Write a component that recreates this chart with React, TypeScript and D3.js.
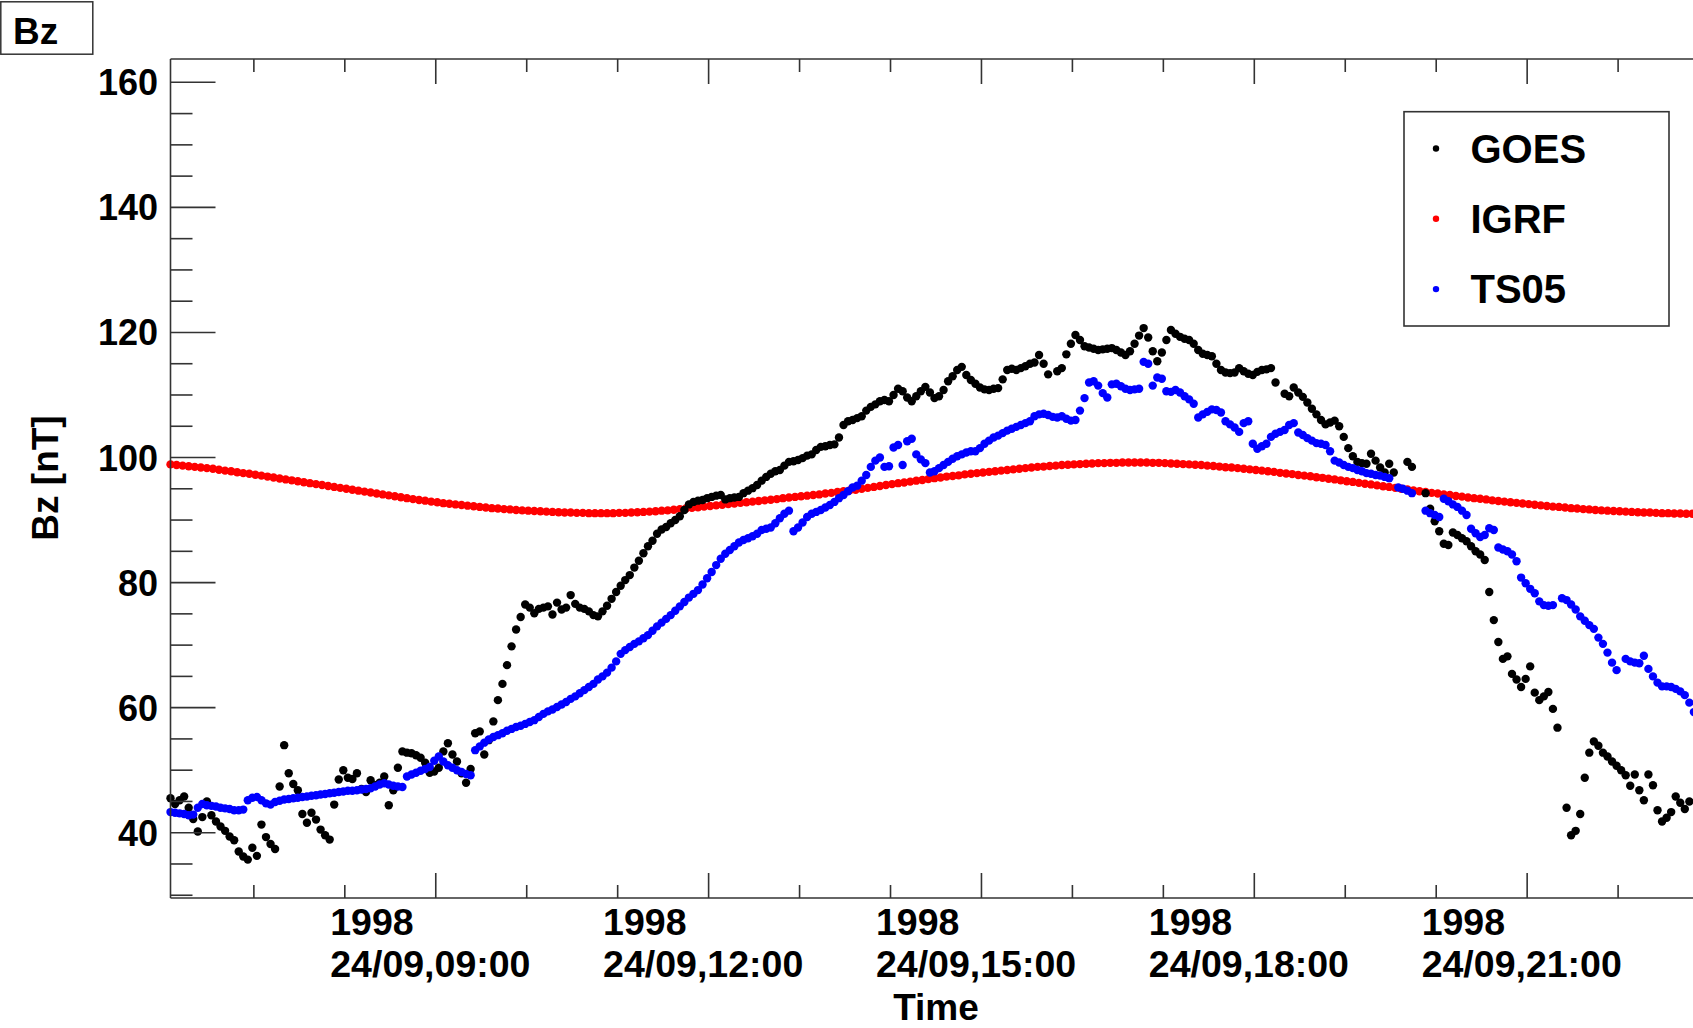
import React from "react";
import * as d3 from "d3";

// Bz component along the GOES orbit, 24 Sep 1998: measured field vs IGRF and TS05 models
const START = Date.UTC(1998, 8, 24, 6, 5);
const END = Date.UTC(1998, 8, 24, 24, 0);
const GOES_STEP_MIN = 3;
const TS05_STEP_MIN = 3;
const IGRF_STEP_MIN = 4;

const goesBz: (number | null)[] = [
  45.5, 44.6, 45.2, 45.8, 44.0, 42.2, 40.2, 42.5, 45.0, 42.8,
  41.8, 41.0, 40.3, 39.4, 38.8, 37.0, 36.2, 35.7, 37.6, 36.3,
  41.3, 39.3, 38.2, 37.4, 47.4, 54.0, 49.5, 47.8, 46.8, 43.0,
  41.6, 43.2, 42.1, 40.5, 39.6, 38.9, 44.5, 48.5, 50.0, 48.8,
  48.6, 49.5, 47.0, 46.5, 48.4, 47.6, 48.0, 49.0, 44.4, 46.8,
  50.4, 53.0, 52.8, 52.7, 52.4, 52.0, 51.2, 49.6, 49.8, 50.4,
  53.0, 54.3, 52.5, 51.4, 49.5, 48.0, 50.2, 55.9, 56.2, 52.5,
  54.8, 57.8, 61.2, 63.8, 66.8, 69.8, 72.5, 74.5, 76.5, 76.0,
  75.1, 75.8, 76.0, 76.2, 74.9, 76.8, 75.7, 76.0, 78.0, 76.6,
  76.0, 75.8, 75.4, 74.8, 74.6, 75.4, 76.3, 77.4, 78.5, 79.5,
  80.4, 81.2, 82.4, 83.5, 84.7, 85.8, 86.7, 87.8, 88.5, 88.9,
  89.5, 90.0, 90.6, 91.6, 92.5, 92.9, 93.1, 93.2, 93.5, 93.7,
  93.9, 94.0, 93.3, 93.5, 93.6, 93.7, 94.3, 94.7, 95.1, 95.6,
  96.3, 96.9, 97.4, 97.8, 98.0, 98.7, 99.3, 99.4, 99.6, 99.9,
  100.3, 100.5, 101.2, 101.7, 101.8, 102.0, 102.1, 103.2, 105.2, 105.8,
  106.0, 106.3, 106.6, 107.5, 108.1, 108.5, 109.0, 109.2, 109.0, 110.0,
  111.0, 110.6, 109.6, 109.0, 109.8, 110.6, 111.3, 110.4, 109.5, 109.8,
  110.8, 112.2, 113.0, 114.0, 114.5, 113.2, 112.4, 111.8, 111.2, 110.9,
  110.8, 111.0, 111.1, 112.5, 114.0, 114.2, 114.0, 114.3, 114.6, 115.0,
  115.2, 116.4, 115.0, 113.3, null, 113.8, 114.3, 116.5, 118.2, 119.6,
  118.8, 117.8, 117.6, 117.4, 117.2, 117.3, 117.4, 117.5, 117.2, 116.8,
  116.4, 117.0, 118.2, 119.5, 120.7, 119.2, 117.0, 115.4, 116.8, 118.8,
  120.4, 119.8, 119.3, 119.0, 118.8, 118.2, 117.2, 116.6, 116.4, 116.2,
  115.0, 114.0, 113.6, 113.5, 113.6, 114.3, 113.8, 113.4, 113.2, 113.7,
  114.0, 114.1, 114.3, 112.0, null, 110.2, 109.8, 111.2, 110.4, 109.7,
  108.8, 107.8, 106.9, 106.0, 105.3, 105.6, 105.9, 105.0, 103.3, 101.5,
  100.2, 99.3, 99.1, 99.0, 100.6, 99.5, 98.4, 97.6, 99.0, 97.6,
  null, null, 99.3, 98.5, null, null, 94.3, 91.8, 89.8, 88.2,
  86.2, 86.0, 88.0, 87.6, 87.1, 86.6, 85.8, 85.0, 84.5, 83.6,
  78.5, 74.0, 70.5, 67.8, 68.2, 65.4, 64.5, 63.3, 64.6, 66.6,
  62.4, 61.2, 61.8, 62.5, 59.8, 56.8, null, 44.0, 39.6, 40.3,
  43.0, 48.8, 52.8, 54.6, 53.9, 52.8, 52.2, 51.4, 50.7, 50.0,
  49.2, 47.5, 49.3, 46.8, 45.2, 49.3, 47.6, 43.6, 41.8, 42.4,
  43.3, 45.8, 44.8, 43.8, 45.0,
];

const ts05Bz: (number | null)[] = [
  43.3, 43.2, 43.1, 43.0, 42.8, 42.9, 44.0, 44.6, 44.4, 44.3,
  44.2, 44.0, 43.9, 43.8, 43.6, 43.6, 43.7, 45.2, 45.6, 45.7,
  45.2, 44.7, 44.5, 44.9, 45.1, 45.3, 45.4, 45.5, 45.6, 45.7,
  45.8, 45.9, 46.0, 46.1, 46.2, 46.3, 46.4, 46.5, 46.6, 46.7,
  46.7, 46.8, 46.9, 47.0, 47.1, 47.4, 47.7, 47.9, 47.7, 47.5,
  47.4, 47.3, 49.0, 49.3, 49.6, 49.9, 50.2, 50.5, 51.5, 52.2,
  51.4, 50.8, 50.4, 50.0, 49.7, 49.4, 49.2, 53.2, 53.8, 54.4,
  54.9, 55.3, 55.6, 55.9, 56.3, 56.6, 56.9, 57.1, 57.4, 57.7,
  58.0, 58.5, 59.0, 59.4, 59.7, 60.1, 60.5, 60.9, 61.4, 61.8,
  62.3, 62.8, 63.3, 63.8, 64.5, 65.0, 65.6, 66.4, 67.4, 68.6,
  69.2, 69.7, 70.2, 70.6, 71.1, 71.6, 72.3, 73.0, 73.6, 74.2,
  74.8, 75.5, 76.2, 76.9, 77.6, 78.2, 78.8, 79.7, 80.7, 81.7,
  82.8, 83.8, 84.6, 85.2, 85.8, 86.4, 86.8, 87.1, 87.4, 87.8,
  88.4, 88.6, 88.8, 89.5, 90.3, 91.0, 91.5, 88.2, 88.8, 89.6,
  90.5, 91.0, 91.3, 91.6, 92.0, 92.4, 92.9, 93.5, 94.0, 94.6,
  95.2, 95.5, 96.3, 97.2, 98.5, 99.5, 100.0, 98.5, 98.6, 101.6,
  102.0, 98.8, 102.6, 103.0, 100.5, 99.7, 99.1, 97.6, 97.8, 98.3,
  98.8, 99.3, 99.8, 100.2, 100.5, 100.8, 101.0, 101.0, 101.5, 102.2,
  102.7, 103.2, 103.5, 103.9, 104.3, 104.6, 104.9, 105.2, 105.5, 105.8,
  106.6, 106.9, 107.0, 106.8, 106.5, 106.4, 106.6, 106.2, 105.9, 106.0,
  107.5, 109.5, 112.0, 112.2, 111.5, 110.3, 109.6, 111.7, 111.8, 111.4,
  111.0, 110.8, 110.9, 111.0, 115.3, 115.0, 111.5, 112.8, 112.6, 110.6,
  110.5, 110.8, 110.4, 109.8, 109.3, 108.6, 106.4, 106.9, 107.3, 107.7,
  107.6, 107.2, 105.8, 105.3, 104.8, 104.1, 105.5, 105.8, 102.2, 101.4,
  101.8, 102.2, 103.3, 103.8, 104.1, 104.4, 105.2, 105.5, 104.0, 103.6,
  103.1, 102.7, 102.3, 102.2, 102.0, 101.0, 99.5, 99.2, 98.8, 98.5,
  98.3, 98.0, 97.8, 97.5, 97.4, 97.2, 97.1, 96.9, 96.7, null,
  95.2, 95.0, 94.7, 94.3, null, null, 91.5, 91.1, 90.8, 90.5,
  93.4, 93.0, 92.5, 92.1, 91.5, 90.8, 88.6, 87.9, 87.3, 87.6,
  88.7, 88.4, 85.6, 85.3, 85.0, 84.5, 83.4, 80.8, 79.9, 79.0,
  78.3, 77.0, 76.4, 76.3, 76.4, null, 77.5, 77.2, 76.5, 75.7,
  74.6, 73.9, 73.2, 72.6, 71.2, 70.2, 68.8, 67.2, 66.0, null,
  67.8, 67.4, 67.2, 67.1, 68.3, 66.2, 65.0, 64.0, 63.4, 63.4,
  63.3, 63.0, 62.6, 62.0, 60.8, 59.3,
];

const igrfBz: (number | null)[] = [
  98.9, 98.8, 98.7, 98.6, 98.5, 98.4, 98.3, 98.2, 98.05, 97.9,
  97.8, 97.65, 97.5, 97.4, 97.25, 97.1, 96.95, 96.8, 96.65, 96.5,
  96.35, 96.2, 96.05, 95.9, 95.75, 95.6, 95.45, 95.3, 95.15, 95.0,
  94.85, 94.7, 94.55, 94.4, 94.25, 94.1, 93.95, 93.8, 93.65, 93.5,
  93.35, 93.2, 93.1, 92.95, 92.85, 92.7, 92.6, 92.5, 92.4, 92.3,
  92.2, 92.1, 92.0, 91.9, 91.85, 91.75, 91.7, 91.6, 91.55, 91.5,
  91.45, 91.4, 91.35, 91.3, 91.25, 91.2, 91.2, 91.15, 91.15, 91.1,
  91.1, 91.1, 91.1, 91.1, 91.15, 91.15, 91.2, 91.25, 91.3, 91.35,
  91.4, 91.5, 91.55, 91.65, 91.75, 91.85, 91.95, 92.05, 92.15, 92.25,
  92.35, 92.45, 92.55, 92.65, 92.75, 92.85, 92.95, 93.05, 93.15, 93.25,
  93.35, 93.5, 93.6, 93.7, 93.8, 93.9, 94.0, 94.1, 94.25, 94.35,
  94.5, 94.6, 94.75, 94.85, 95.0, 95.15, 95.3, 95.45, 95.6, 95.75,
  95.9, 96.0, 96.15, 96.3, 96.4, 96.55, 96.7, 96.8, 96.95, 97.05,
  97.15, 97.3, 97.4, 97.5, 97.6, 97.7, 97.8, 97.9, 98.0, 98.1,
  98.2, 98.3, 98.4, 98.5, 98.55, 98.65, 98.7, 98.8, 98.85, 98.9,
  98.95, 99.0, 99.05, 99.1, 99.1, 99.15, 99.15, 99.2, 99.2, 99.2,
  99.2, 99.2, 99.15, 99.15, 99.1, 99.05, 99.0, 98.95, 98.9, 98.85,
  98.8, 98.7, 98.65, 98.55, 98.45, 98.4, 98.3, 98.2, 98.1, 98.0,
  97.9, 97.8, 97.7, 97.55, 97.45, 97.35, 97.2, 97.1, 97.0, 96.85,
  96.75, 96.6, 96.5, 96.35, 96.2, 96.1, 95.95, 95.8, 95.7, 95.55,
  95.4, 95.3, 95.15, 95.0, 94.9, 94.75, 94.6, 94.5, 94.35, 94.25,
  94.1, 94.0, 93.85, 93.75, 93.6, 93.5, 93.4, 93.3, 93.15, 93.05,
  92.95, 92.85, 92.75, 92.65, 92.55, 92.45, 92.35, 92.25, 92.15, 92.1,
  92.0, 91.9, 91.85, 91.75, 91.7, 91.6, 91.55, 91.5, 91.45, 91.4,
  91.35, 91.3, 91.25, 91.2, 91.2, 91.15, 91.1, 91.1, 91.05, 91.05,
  91.0, 91.0,
];

const yMajorTicks = [40, 60, 80, 100, 120, 140, 160];
const legendLabels = ["GOES", "IGRF", "TS05"];
const legendColors = ["#000000", "#ff0000", "#0000ff"];

const W = 1693;
const H = 1028;
const FRAME = { left: 170.5, top: 59, bottom: 898, right: 1800 };
const FONT = "'Liberation Sans', Arial, Helvetica, sans-serif";
const AXIS = "#333333";

type Pt = { t: Date; v: number };

function toPoints(values: (number | null)[], stepMin: number): Pt[] {
  const out: Pt[] = [];
  values.forEach((v, i) => {
    if (v !== null) out.push({ t: new Date(START + i * stepMin * 60000), v });
  });
  return out;
}

export default function App() {
  const x = d3
    .scaleUtc()
    .domain([new Date(START), new Date(END)])
    .range([FRAME.left, FRAME.right]);
  const y = d3.scaleLinear().domain([29.56, 163.73]).range([FRAME.bottom, FRAME.top]);

  const hourTicks = x.ticks(d3.utcHour.every(1) as d3.TimeInterval).filter((d) => x(d) < W);
  const isMajor = (d: Date) => d.getUTCHours() % 3 === 0;
  const fmtYear = d3.utcFormat("%Y");
  const fmtDay = d3.utcFormat("%d/%m,%H:%M");

  const minorY = d3.range(30, 161, 5).filter((v) => v % 20 !== 0 && v >= y.domain()[0]);

  const series = [
    { key: "igrf", color: "#ff0000", pts: toPoints(igrfBz, IGRF_STEP_MIN) },
    { key: "goes", color: "#000000", pts: toPoints(goesBz, GOES_STEP_MIN) },
    { key: "ts05", color: "#0000ff", pts: toPoints(ts05Bz, TS05_STEP_MIN) },
  ];

  const r = 4.2;

  return (
    <svg
      width={W}
      height={H}
      style={{ position: "absolute", left: 0, top: 0, display: "block", background: "#fff" }}
      fontFamily={FONT}
      fontWeight="bold"
    >
      <rect x={0} y={0} width={W} height={H} fill="#ffffff" />

      {/* data markers */}
      {series.map((s) => (
        <g key={s.key} fill={s.color}>
          {s.pts.map((p, i) => (
            <circle key={i} cx={x(p.t)} cy={y(p.v)} r={r} />
          ))}
        </g>
      ))}

      {/* frame */}
      <g stroke={AXIS} strokeWidth={1.6} fill="none">
        <line x1={FRAME.left} y1={FRAME.top} x2={FRAME.right} y2={FRAME.top} />
        <line x1={FRAME.left} y1={FRAME.bottom} x2={FRAME.right} y2={FRAME.bottom} />
        <line x1={FRAME.left} y1={FRAME.top} x2={FRAME.left} y2={FRAME.bottom} />
      </g>

      {/* y ticks */}
      <g stroke={AXIS} strokeWidth={1.6}>
        {yMajorTicks.map((v) => (
          <line key={"M" + v} x1={FRAME.left} x2={FRAME.left + 45} y1={y(v)} y2={y(v)} />
        ))}
        {minorY.map((v) => (
          <line key={"m" + v} x1={FRAME.left} x2={FRAME.left + 22} y1={y(v)} y2={y(v)} />
        ))}
      </g>
      <g fontSize={36} textAnchor="end" fill="#000">
        {yMajorTicks.map((v) => (
          <text key={v} x={158} y={y(v) + 13}>
            {v}
          </text>
        ))}
      </g>

      {/* x ticks, bottom and top */}
      <g stroke={AXIS} strokeWidth={1.6}>
        {hourTicks.map((d) => {
          const len = isMajor(d) ? 25 : 13;
          const xx = x(d);
          return (
            <g key={+d}>
              <line x1={xx} x2={xx} y1={FRAME.bottom} y2={FRAME.bottom - len} />
              <line x1={xx} x2={xx} y1={FRAME.top} y2={FRAME.top + len} />
            </g>
          );
        })}
      </g>
      <g fontSize={37.5} fill="#000">
        {hourTicks
          .filter(isMajor)
          .filter((d) => x(d) + 100 < W)
          .map((d) => {
            const left = x(d) - 105.5;
            return (
              <g key={+d}>
                <text x={left} y={935}>
                  {fmtYear(d)}
                </text>
                <text x={left} y={977}>
                  {fmtDay(d)}
                </text>
              </g>
            );
          })}
      </g>

      {/* axis titles */}
      <text x={936} y={1020} fontSize={37} textAnchor="middle" fill="#000">
        Time
      </text>
      <text
        transform="translate(58,478) rotate(-90)"
        fontSize={37}
        textAnchor="middle"
        fill="#000"
      >
        Bz [nT]
      </text>

      {/* title box */}
      <rect x={0.8} y={1.8} width={92} height={52.4} fill="#fff" stroke={AXIS} strokeWidth={1.5} />
      <text x={13} y={43.5} fontSize={37} fill="#000">
        Bz
      </text>

      {/* legend */}
      <rect x={1404} y={111.7} width={265} height={214.3} fill="#fff" stroke={AXIS} strokeWidth={1.6} />
      {legendLabels.map((lab, i) => (
        <g key={lab}>
          <circle cx={1436} cy={148.5 + i * 70.3} r={3.2} fill={legendColors[i]} />
          <text x={1470.5} y={162.7 + i * 70.3} fontSize={40} fill="#000">
            {lab}
          </text>
        </g>
      ))}
    </svg>
  );
}
